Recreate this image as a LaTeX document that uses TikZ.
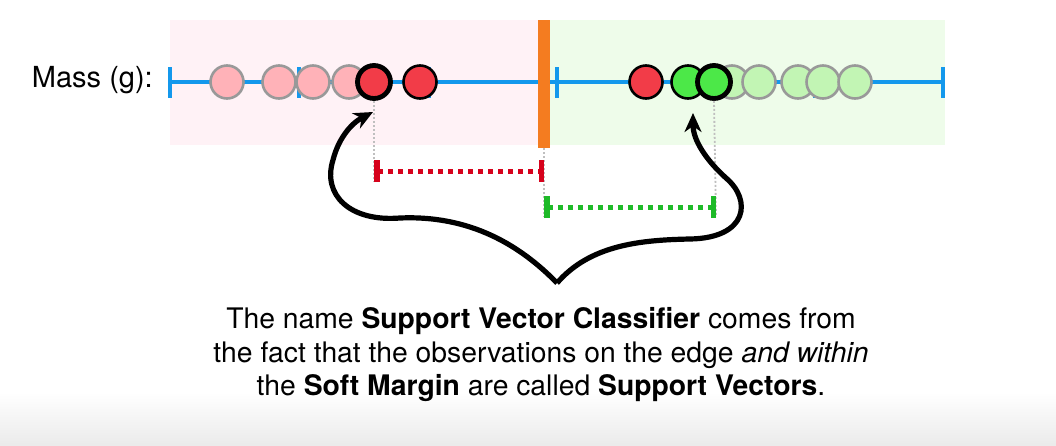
\documentclass[tikz,border=0pt]{standalone}
\usepackage{fontspec}
\setmainfont{TeX Gyre Heros}
\usetikzlibrary{arrows.meta, positioning, calc}
\definecolor{axisblue}{RGB}{20,152,236}
\definecolor{sepcolor}{RGB}{244,124,32}
\definecolor{pinkbg}{RGB}{255,242,246}
\definecolor{greenbg}{RGB}{238,252,234}
\definecolor{ptred}{RGB}{242,60,72}
\definecolor{ptpink}{RGB}{255,178,184}
\definecolor{ptgreen}{RGB}{76,232,72}
\definecolor{ptlgreen}{RGB}{194,245,180}
\definecolor{dimred}{RGB}{214,2,28}
\definecolor{dimgreen}{RGB}{30,186,40}
\tikzset{
  pt/.style      = {circle, minimum size=33pt, inner sep=0pt, line width=2.6pt},
  redpt/.style   = {pt, draw=black, fill=ptred},
  greenpt/.style = {pt, draw=black, fill=ptgreen},
  pinkpt/.style  = {pt, draw=gray!80, fill=ptpink},
  lgreenpt/.style= {pt, draw=gray!80, fill=ptlgreen},
  svpt/.style    = {line width=4.8pt},
  axis/.style    = {axisblue, line width=4.8pt},
  guide/.style   = {gray!50, line width=1.8pt, dash pattern=on 2pt off 2pt},
  dim/.style     = {line width=5pt, dash pattern=on 5pt off 5pt,
                    {Bar[width=22pt, line width=5.5pt]}-{Bar[width=22pt, line width=5.5pt]}},
  curly/.style   = {line width=5.2pt, -{Stealth[length=19pt, width=17pt, inset=6pt]}},
}

\begin{document}
\begin{tikzpicture}[x=1pt, y=-1pt]
  \useasboundingbox (0,0) rectangle (1056,445);
  \shade[top color=white, bottom color=black!8] (0,392) rectangle (1056,445);
  % class regions
  \fill[pinkbg] (170,20) rectangle (544,145);
  \fill[greenbg] (544,20) rectangle (945,145);
  % axis
  \node[font=\fontsize{29}{34}\selectfont, anchor=east, inner sep=0pt] (lbl) at (153,80) {Mass (g):};
  \draw[axis] (170,82) -- (943,82);
  \foreach \x in {170,299,429,557,815,943} {
    \draw[axis] (\x,67) -- (\x,98);
  }
  % threshold
  \node[fill=sepcolor, minimum width=12pt, minimum height=128pt, inner sep=0pt] (sep) at (544,84) {};
  % observations
  \foreach \i/\x in {1/227, 2/279, 3/313, 4/349} {
    \node[pinkpt] (p\i) at (\x,82) {};
  }
  \node[redpt] (r2) at (420,82) {};
  \node[redpt, svpt] (svr) at (374,82) {};
  \node[redpt] (r3) at (646,82) {};
  \node[greenpt] (g1) at (688,82) {};
  \foreach \i/\x in {1/732, 2/759, 3/798, 4/823, 5/855} {
    \node[lgreenpt] (lg\i) at (\x,82) {};
  }
  \node[greenpt, svpt] (svg) at (714,82) {};
  % margins
  \coordinate (rl) at (374,171);
  \coordinate (rr) at (544,171);
  \coordinate (gl) at (544,207);
  \coordinate (gr) at (716,207);
  \draw[guide] (svr.south) -- ($(rl)+(0,10)$);
  \draw[guide] (sep.south) -- ($(gl)+(0,10)$);
  \draw[guide] (svg.south) -- ($(gr)+(0,10)$);
  \draw[dim, dimred] (rl) -- (rr);
  \draw[dim, dimgreen] (gl) -- (gr);
  % curly arrows
  \coordinate (tip) at (557,283);
  \coordinate (lhead) at (373,112);
  \coordinate (rhead) at (693,113);
  \draw[curly] (tip) .. controls (520,245) and (470,215) .. (400,218)
    .. controls (350,222) and (322,195) .. (333,160)
    .. controls (338,140) and (350,124) .. (lhead);
  \draw[curly] (tip) .. controls (590,245) and (640,240) .. (690,239)
    .. controls (748,238) and (752,200) .. (726,178)
    .. controls (706,160) and (693,140) .. (rhead);
  % note
  \node[font=\fontsize{28.3}{33.5}\selectfont, align=center] (note) at (541,355)
    {The name \textbf{Support Vector Classifier} comes from\\
     the fact that the observations on the edge \textit{and within}\\
     the \textbf{Soft Margin} are called \textbf{Support Vectors}.};
\end{tikzpicture}
\end{document}
